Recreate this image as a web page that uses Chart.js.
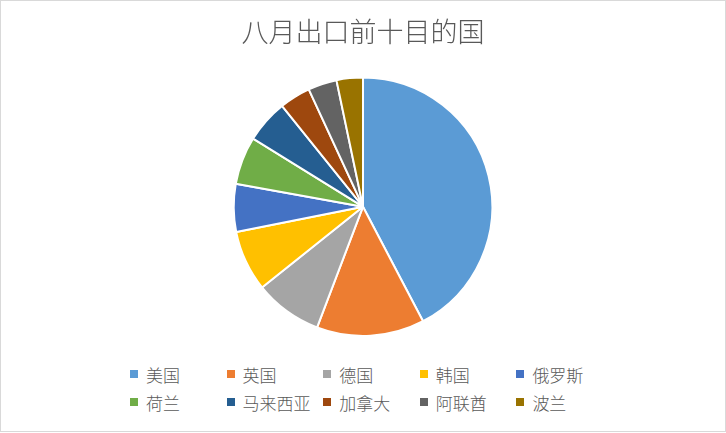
<!DOCTYPE html>
<html>
<head>
<meta charset="utf-8">
<script src="https://cdn.jsdelivr.net/npm/chart.js@4"></script>
<style>
  html, body { margin: 0; padding: 0; background: #fff; }
  #frame {
    position: relative; width: 724px; height: 430px;
    border: 1px solid #d9d9d9; background: #fff; box-sizing: content-box;
  }
  #box { position: absolute; left: -1px; top: -1px; width: 726px; height: 337px; }
  #legend {
    position: absolute; left: 129px; top: 364px;
    display: grid; grid-template-columns: repeat(5, 96.6px); row-gap: 10px;
    font-family: "Noto Sans CJK SC", sans-serif; font-weight: 300; font-size: 17px; color: #595959;
  }
  #legend div { display: flex; align-items: center; height: 18px; white-space: nowrap; }
  #legend span { display: inline-block; width: 8px; height: 8px; margin-right: 8px; }
</style>
</head>
<body>
<div id="frame">
  <div id="box"><canvas id="myChart"></canvas></div>
  <div id="legend"></div>
</div>
<script>
// countries, in the order the slices run clockwise from 12 o'clock
var countries = ["美国","英国","德国","韩国","俄罗斯","荷兰","马来西亚","加拿大","阿联酋","波兰"];
// share of August exports (%)
var shares = [42.4,13.5,8.5,7.6,6.0,6.0,5.4,3.9,3.6,3.3];
// Office palette
var colors = ["#5B9BD5","#ED7D31","#A5A5A5","#FFC000","#4472C4","#70AD47","#255E91","#9E480E","#636363","#997300"];

// legend in a fixed 5-column grid, like the original
var legend = document.getElementById("legend");
countries.forEach(function (name, i) {
  var item = document.createElement("div");
  var sw = document.createElement("span");
  sw.style.background = colors[i];
  item.appendChild(sw);
  item.appendChild(document.createTextNode(name));
  legend.appendChild(item);
});

var ctx = document.getElementById("myChart");
var myChart = new Chart(ctx, {
  type: 'pie',
  data: {
    labels: countries,
    datasets: [{
      data: shares,
      backgroundColor: colors,
      borderColor: "#ffffff",
      borderWidth: 2
    }]
  },
  options: {
    responsive: true,
    maintainAspectRatio: false,
    animation: false,
    layout: { padding: 0 },
    plugins: {
      legend: { display: false },
      tooltip: { enabled: false },
      title: {
        display: true,
        text: "八月出口前十目的国",
        color: "#595959",
        font: { family: "Noto Sans CJK SC", size: 27, weight: '300' },
        padding: { top: 16, bottom: 28 }
      }
    }
  }
});
</script>
</body>
</html>
